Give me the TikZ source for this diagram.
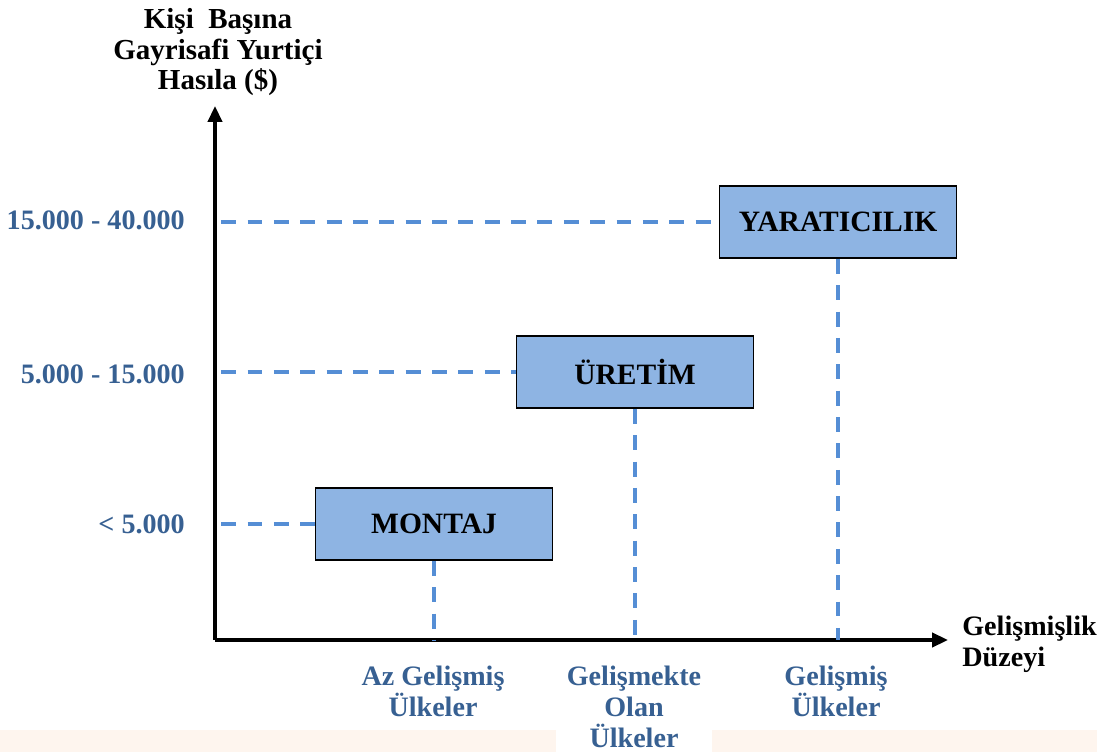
\documentclass[tikz,border=0pt]{standalone}
\usepackage{fontspec}
\setmainfont{Liberation Serif}
\usetikzlibrary{arrows.meta}

\definecolor{kutumavi}{RGB}{142,180,227}
\definecolor{cizgimavi}{RGB}{85,142,213}
\definecolor{yazimavi}{RGB}{55,96,146}
\definecolor{seftali}{RGB}{254,245,238}

\tikzset{
  eksen/.style={line width=2pt, -{Triangle[length=9pt,width=8pt]}},
  kesik/.style={cizgimavi, line width=1.8pt, dash pattern=on 8.5pt off 6.5pt},
  kutu/.style={draw=black, line width=1pt, fill=kutumavi,
    minimum width=4.74cm, minimum height=1.44cm,
    font=\fontsize{16.8}{18}\selectfont\bfseries},
  seviye/.style={anchor=east, text=yazimavi,
    font=\fontsize{16}{18}\selectfont\bfseries},
  ulke/.style={anchor=north, align=center, text=yazimavi,
    font=\fontsize{16}{17.5}\selectfont\bfseries},
  baslik/.style={align=center, font=\fontsize{16.5}{17.5}\selectfont\bfseries}
}

\begin{document}
\begin{tikzpicture}[x=0.2mm, y=-0.2mm]
                \useasboundingbox (0,0) rectangle (1097,752);
                \fill[seftali] (0,730) rectangle (1097,752);

                % eksenler
                \coordinate (o) at (215,640);
                \coordinate (ytepe) at (215,106);
                \coordinate (xuc) at (948,640);
                \draw[eksen] (o) -- (ytepe);
                \draw[eksen] (o) -- (xuc);

                % kutular
                \node[kutu] (montaj) at (434,524) {MONTAJ};
                \node[kutu] (uretim) at (635,372) {ÜRETİM};
                \node[kutu] (yaratici) at (838,222) {YARATICILIK};

                % seviyeler
                \node[seviye] (s1) at (191,524) {< 5.000};
                \node[seviye] (s2) at (191,374) {5.000 - 15.000};
                \node[seviye] (s3) at (191,220) {15.000 - 40.000};

                \draw[kesik] ([xshift=3.5pt]o |- yaratici.west) -- (yaratici.west);
                \draw[kesik] ([xshift=3.5pt]o |- uretim.west) -- (uretim.west);
                \draw[kesik] ([xshift=3.5pt]o |- montaj.west) -- (montaj.west);
                \draw[kesik] (yaratici.south) -- (yaratici.south |- o);
                \draw[kesik] (uretim.south) -- (uretim.south |- o);
                \draw[kesik] (montaj.south) -- (montaj.south |- o);

                % eksen yazilari
                \node[baslik, anchor=north] (ybaslik) at (218,2)
                    {Kişi~~Başına\\Gayrisafi Yurtiçi\\Hasıla (\$)};
                \node[baslik, anchor=north west, align=left, inner xsep=0pt,
                    font=\fontsize{16}{17.5}\selectfont\bfseries] (xbaslik) at (962,610)
                    {Gelişmişlik\\Düzeyi};

                \node[ulke] (az) at (433,660) {Az Gelişmiş\\Ülkeler};
                \node[ulke, fill=white, inner xsep=6pt] (gelisen) at (634,660)
                    {Gelişmekte\\Olan\\Ülkeler};
                \node[ulke] (gelismis) at (836,660) {Gelişmiş\\Ülkeler};
\end{tikzpicture}
\end{document}
